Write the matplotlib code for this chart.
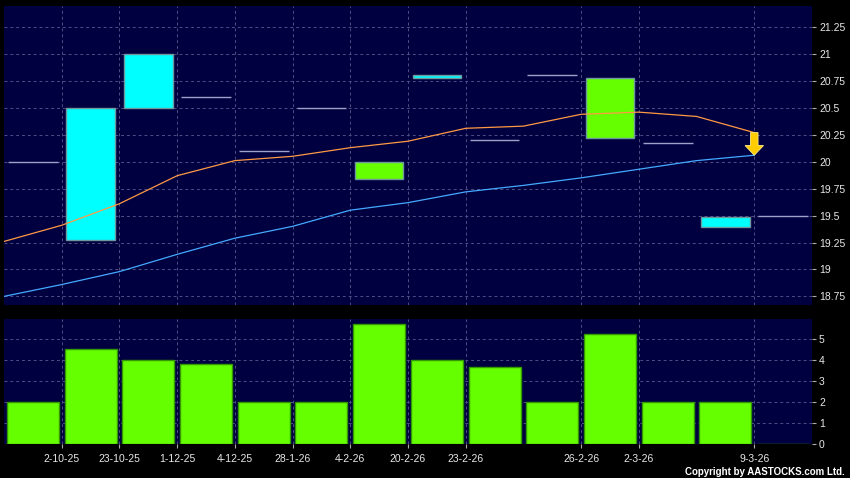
import matplotlib
matplotlib.use("Agg")
import matplotlib.pyplot as plt
import numpy as np

# candles (one per slot)
opens = [20.0, 19.27, 20.5, 20.6, 20.1, 20.5, 20.0, 20.78, 20.2, 20.8, 20.78, 20.17, 19.39, 19.5]
closes = [20.0, 20.5, 21.0, 20.6, 20.1, 20.5, 19.84, 20.80, 20.2, 20.8, 20.22, 20.17, 19.49, 19.5]
volumes = [2.0, 4.5, 4.0, 3.8, 2.0, 2.0, 5.7, 4.0, 3.65, 2.0, 5.25, 2.0, 2.0, 0.0]

# moving averages, plotted on the slot boundaries
ma_short = [19.26, 19.41, 19.61, 19.87, 20.01, 20.05, 20.13, 20.19, 20.31, 20.33, 20.44, 20.46, 20.42, 20.27]
ma_long = [18.75, 18.86, 18.98, 19.14, 19.29, 19.40, 19.55, 19.62, 19.72, 19.78, 19.85, 19.93, 20.01, 20.06]

# date labels sit on the right edge of the candle
date_labels = ["2-10-25", "23-10-25", "1-12-25", "4-12-25", "28-1-26", "4-2-26", "20-2-26",
               "23-2-26", "", "26-2-26", "2-3-26", "", "9-3-26", ""]

price_ticks = [18.75, 19, 19.25, 19.5, 19.75, 20, 20.25, 20.5, 20.75, 21, 21.25]
vol_ticks = [0, 1, 2, 3, 4, 5]

NAVY = "#000040"
GRID = "#4f4f85"
UP = "#00ffff"
DOWN = "#66ff00"
TXT = "#e8e8e8"

plt.rcParams["font.family"] = ["Liberation Sans", "DejaVu Sans"]

fig = plt.figure(figsize=(8.5, 4.78), dpi=100, facecolor="black")
ax = fig.add_axes([4 / 850, 1 - 305 / 478, 808 / 850, 299 / 478])
axv = fig.add_axes([4 / 850, 1 - 444 / 478, 808 / 850, 125 / 478])

x = np.arange(len(opens))
o = np.array(opens)
c = np.array(closes)
flat = o == c
lo = np.minimum(o, c)
hi = np.maximum(o, c)
colors = [UP if cc > oo else DOWN for oo, cc in zip(o, c)]

tick_pos = [i + 0.5 for i, d in enumerate(date_labels) if d]
tick_lab = [d for d in date_labels if d]

for a in (ax, axv):
    a.set_facecolor(NAVY)
    a.set_xlim(-0.5, len(opens) - 0.5)
    a.set_xticks(tick_pos)
    a.grid(True, color=GRID, linestyle=(0, (3, 3)), linewidth=0.7)
    a.set_axisbelow(True)
    for s in a.spines.values():
        s.set_visible(False)
    a.yaxis.tick_right()
    a.tick_params(axis="y", colors="#aaaaaa", labelcolor=TXT, labelsize=7.5, length=3, pad=2)

# price panel
ax.bar(x[~flat], (hi - lo)[~flat], bottom=lo[~flat], width=0.84,
       color=[colors[i] for i in x[~flat]], edgecolor="#6f97a0", linewidth=1, zorder=2)
ax.hlines(o[flat], x[flat] - 0.43, x[flat] + 0.43, color="#a0a0cc", linewidth=1, zorder=2)

xm = x - 0.5
ax.plot(xm, ma_short, color="#ff9944", linewidth=0.9, zorder=3)
ax.plot(xm, ma_long, color="#44aaff", linewidth=0.9, zorder=3)

# signal arrow from the short MA down to the long MA at the last point
ax.arrow(xm[-1], ma_short[-1], 0, ma_long[-1] - ma_short[-1], width=0.13, head_width=0.32,
         head_length=0.09, length_includes_head=True, facecolor="#ffcc00",
         edgecolor="#ffee88", linewidth=0.6, zorder=4)

ax.set_ylim(18.67, 21.445)
ax.set_yticks(price_ticks)
ax.set_yticklabels([f"{t:g}" for t in price_ticks])
ax.tick_params(axis="x", length=0, labelbottom=False)

# volume panel
axv.bar(x, volumes, width=0.9, color=DOWN, edgecolor="#339900", linewidth=1, zorder=2)
axv.set_ylim(0, 5.95)
axv.set_yticks(vol_ticks)
axv.set_xticklabels(tick_lab)
axv.tick_params(axis="x", colors="#aaaaaa", labelcolor=TXT, labelsize=7.5, length=3, pad=4)

fig.text(0.994, 0.003, "Copyright by AASTOCKS.com Ltd.", color="white", fontsize=7,
         fontweight="bold", ha="right", va="bottom")

fig.savefig("out.png", dpi=100, facecolor="black")
